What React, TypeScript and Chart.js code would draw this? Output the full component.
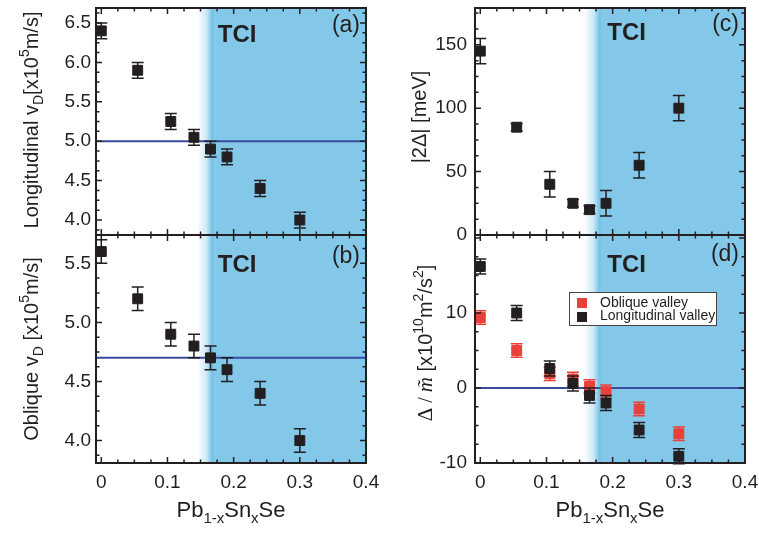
import React, { useEffect, useRef } from "react";
import { Chart, registerables } from "chart.js";

Chart.register(...registerables);

// ---------------------------------------------------------------------------
// Data: Pb(1-x)Sn(x)Se, Dirac velocities, gap and band-inversion parameter
// ---------------------------------------------------------------------------
const snContent = [0, 0.055, 0.105, 0.14, 0.165, 0.19, 0.24, 0.3];

const longitudinalVD = [6.4, 5.9, 5.25, 5.05, 4.9, 4.8, 4.4, 4.0];
const longitudinalVDErr = [0.1, 0.1, 0.1, 0.1, 0.1, 0.1, 0.1, 0.1];

const obliqueVD = [5.6, 5.2, 4.9, 4.8, 4.7, 4.6, 4.4, 4.0];
const obliqueVDErr = [0.1, 0.1, 0.1, 0.1, 0.1, 0.1, 0.1, 0.1];

const gapMeV = [145, 85, 40, 25, 20, 25, 55, 100];
const gapErr = [10, 3, 10, 3, 3, 10, 10, 10];

const ratioOblique = [9.4, 5.0, 1.9, 1.2, 0.2, -0.5, -2.8, -6.1];
const ratioObliqueErr = [0.9, 0.9, 0.9, 0.9, 0.9, 0.9, 0.9, 0.9];
const ratioLongitudinal = [16.2, 10.0, 2.6, 0.6, -1.0, -2.0, -5.6, -9.1];
const ratioLongitudinalErr = [1, 1, 1, 1, 1, 1, 1, 1];

// reference levels (horizontal lines)
const longitudinalRef = 5.0;
const obliqueRef = 4.7;
const ratioRef = 0;

// tick labels
const xTickValues = [0, 0.1, 0.2, 0.3, 0.4];
const longitudinalTicks = [4.0, 4.5, 5.0, 5.5, 6.0, 6.5];
const obliqueTicks = [4.0, 4.5, 5.0, 5.5];
const gapTicks = [0, 50, 100, 150];
const ratioTicks = [-10, 0, 10];

// TCI region onset (white -> blue fade), in x units
const tciFadeLeft: [number, number] = [0.145, 0.17];
const tciFadeRight: [number, number] = [0.156, 0.183];

// ---------------------------------------------------------------------------
const W = 759;
const H = 533;
const OFF = 50; // canvases overhang the visible frame so labels never squeeze the plot
const CW = W + 2 * OFF;
const CH = H + 2 * OFF;

const SANS = "'Liberation Sans', Arial, Helvetica, sans-serif";
const SERIF = "'Liberation Serif', 'Times New Roman', serif";
const INK = "#231f20";
const TCI_BLUE = "#84c8e9";
const REF_BLUE = "#3a4a9e";
const RED = "#e8413a";

const X_MIN = -0.008;
const X_MAX = 0.4;

Chart.defaults.font.family = SANS;
Chart.defaults.color = INK;

type Seg = { t: string; size?: number; dy?: number; family?: string; style?: string };

type Series = { label: string; values: number[]; errors: number[]; color: string };

interface PanelSpec {
  tag: string;
  area: { left: number; top: number; right: number; bottom: number };
  yMin: number;
  yMax: number;
  yTicks: number[];
  yMajor: number;
  yMinor: number;
  yFmt: (v: number) => string;
  yPad: number;
  showX: boolean;
  series: Series[];
  refLine?: number;
  tci: [number, number];
  tciTextX: number;
  tciBase: number;
  tagBase: number;
  yTitle: Seg[];
  yTitleAt: [number, number];
  legend?: boolean;
}

const sub = (t: string): Seg => ({ t, size: 14, dy: 5 });
const sup = (t: string): Seg => ({ t, size: 14, dy: -9 });

const panels: PanelSpec[] = [
  {
    tag: "(a)",
    area: { left: 96, top: 8, right: 366, bottom: 235 },
    yMin: 3.81,
    yMax: 6.69,
    yTicks: longitudinalTicks,
    yMajor: 0.5,
    yMinor: 0.125,
    yFmt: (v) => v.toFixed(1),
    yPad: 5,
    showX: false,
    series: [{ label: "Longitudinal", values: longitudinalVD, errors: longitudinalVDErr, color: INK }],
    refLine: longitudinalRef,
    tci: tciFadeLeft,
    tciTextX: 0.176,
    tciBase: 34,
    tagBase: 24,
    yTitle: [{ t: "Longitudinal v" }, sub("D"), { t: "[x10" }, sup("5"), { t: "m/s]" }],
    yTitleAt: [38, 120],
  },
  {
    tag: "(b)",
    area: { left: 96, top: 235, right: 366, bottom: 463 },
    yMin: 3.81,
    yMax: 5.74,
    yTicks: obliqueTicks,
    yMajor: 0.5,
    yMinor: 0.125,
    yFmt: (v) => v.toFixed(1),
    yPad: 5,
    showX: true,
    series: [{ label: "Oblique", values: obliqueVD, errors: obliqueVDErr, color: INK }],
    refLine: obliqueRef,
    tci: tciFadeLeft,
    tciTextX: 0.176,
    tciBase: 37,
    tagBase: 28,
    yTitle: [{ t: "Oblique v" }, sub("D"), { t: " [x10" }, sup("5"), { t: "m/s]" }],
    yTitleAt: [38, 349],
  },
  {
    tag: "(c)",
    area: { left: 475, top: 8, right: 745, bottom: 235 },
    yMin: 0,
    yMax: 179,
    yTicks: gapTicks,
    yMajor: 50,
    yMinor: 12.5,
    yFmt: (v) => String(v),
    yPad: 8,
    showX: false,
    series: [{ label: "|2Δ|", values: gapMeV, errors: gapErr, color: INK }],
    tci: tciFadeRight,
    tciTextX: 0.192,
    tciBase: 32,
    tagBase: 23,
    yTitle: [{ t: "|2Δ| [meV]" }],
    yTitleAt: [426, 117],
  },
  {
    tag: "(d)",
    area: { left: 475, top: 235, right: 745, bottom: 463 },
    yMin: -10,
    yMax: 20.4,
    yTicks: ratioTicks,
    yMajor: 10,
    yMinor: 2.5,
    yFmt: (v) => String(v),
    yPad: 8,
    showX: true,
    series: [
      { label: "Oblique valley", values: ratioOblique, errors: ratioObliqueErr, color: RED },
      { label: "Longitudinal valley", values: ratioLongitudinal, errors: ratioLongitudinalErr, color: INK },
    ],
    refLine: ratioRef,
    tci: tciFadeRight,
    tciTextX: 0.192,
    tciBase: 37,
    tagBase: 26,
    yTitle: [
      { t: "Δ", family: SERIF, size: 21 },
      { t: " / ", family: SERIF },
      { t: "m\u0303", family: SERIF, style: "italic", size: 21 },
      { t: " [x10" },
      sup("10"),
      { t: "m" },
      sup("2"),
      { t: "/s" },
      sup("2"),
      { t: "]" },
    ],
    yTitleAt: [432, 343],
    legend: true,
  },
];

const xTitle: Seg[] = [
  { t: "Pb" },
  { t: "1-x", size: 15, dy: 6 },
  { t: "Sn" },
  { t: "x", size: 15, dy: 6 },
  { t: "Se" },
];

function drawRich(
  ctx: CanvasRenderingContext2D,
  segs: Seg[],
  x: number,
  y: number,
  base: number,
  rotated: boolean
) {
  ctx.save();
  ctx.translate(x, y);
  if (rotated) ctx.rotate(-Math.PI / 2);
  const fonts = segs.map((s) => `${s.style ?? "normal"} ${s.size ?? base}px ${s.family ?? SANS}`);
  const widths = segs.map((s, i) => {
    ctx.font = fonts[i];
    return ctx.measureText(s.t).width;
  });
  let cx = -widths.reduce((a, b) => a + b, 0) / 2;
  ctx.fillStyle = INK;
  ctx.textAlign = "left";
  ctx.textBaseline = "alphabetic";
  segs.forEach((s, i) => {
    ctx.font = fonts[i];
    ctx.fillText(s.t, cx, s.dy ?? 0);
    cx += widths[i];
  });
  ctx.restore();
}

function tickValues(min: number, max: number, minor: number, major: number) {
  const ratio = Math.round(major / minor);
  const out: { v: number; major: boolean }[] = [];
  const k0 = Math.ceil(min / minor - 1e-9);
  const k1 = Math.floor(max / minor + 1e-9);
  for (let k = k0; k <= k1; k++) {
    out.push({ v: k * minor, major: ((k % ratio) + ratio) % ratio === 0 });
  }
  return out;
}

function panelPlugin(spec: PanelSpec) {
  return {
    id: "panelDecor",
    beforeDatasetsDraw(chart: any) {
      const { ctx, chartArea: a, scales } = chart;
      const x0 = scales.x.getPixelForValue(spec.tci[0]);
      const x1 = scales.x.getPixelForValue(spec.tci[1]);
      const g = ctx.createLinearGradient(x0, 0, x1, 0);
      g.addColorStop(0, "rgba(255,255,255,1)");
      g.addColorStop(0.55, "#cde9f6");
      g.addColorStop(0.92, "#72c0e6");
      g.addColorStop(1, TCI_BLUE);
      ctx.save();
      ctx.fillStyle = g;
      ctx.fillRect(x0, a.top, a.right - x0, a.bottom - a.top);
      ctx.restore();
    },
    beforeDatasetDraw(chart: any, args: any) {
      const ds = chart.data.datasets[args.index];
      if (!ds.errorBars) return;
      const { ctx } = chart;
      const ys = chart.scales.y;
      ctx.save();
      ctx.strokeStyle = ds.borderColor;
      ctx.lineWidth = 1.5;
      args.meta.data.forEach((pt: any, k: number) => {
        const v = ds.data[k].y;
        const e = ds.errorBars[k];
        const yt = ys.getPixelForValue(v + e);
        const yb = ys.getPixelForValue(v - e);
        const px = pt.x;
        ctx.beginPath();
        ctx.moveTo(px, yt);
        ctx.lineTo(px, yb);
        ctx.moveTo(px - 6, yt);
        ctx.lineTo(px + 6, yt);
        ctx.moveTo(px - 6, yb);
        ctx.lineTo(px + 6, yb);
        ctx.stroke();
      });
      ctx.restore();
    },
    afterDraw(chart: any) {
      const { ctx, chartArea: a, scales } = chart;
      const xs = scales.x;
      const ys = scales.y;
      ctx.save();

      // inward tick marks on all four sides
      ctx.strokeStyle = INK;
      ctx.lineWidth = 1.5;
      ctx.beginPath();
      for (const t of tickValues(X_MIN, X_MAX, 0.025, 0.1)) {
        const px = xs.getPixelForValue(t.v);
        const len = t.major ? 6 : 3.5;
        ctx.moveTo(px, a.bottom);
        ctx.lineTo(px, a.bottom - len);
        ctx.moveTo(px, a.top);
        ctx.lineTo(px, a.top + len);
      }
      for (const t of tickValues(spec.yMin, spec.yMax, spec.yMinor, spec.yMajor)) {
        const py = ys.getPixelForValue(t.v);
        const len = t.major ? 6 : 3.5;
        ctx.moveTo(a.left, py);
        ctx.lineTo(a.left + len, py);
        ctx.moveTo(a.right, py);
        ctx.lineTo(a.right - len, py);
      }
      ctx.stroke();

      // frame
      ctx.lineWidth = 2;
      ctx.strokeRect(a.left, a.top, a.right - a.left, a.bottom - a.top);

      // TCI label and panel tag
      ctx.fillStyle = INK;
      ctx.textBaseline = "alphabetic";
      ctx.font = `bold 24px ${SANS}`;
      ctx.textAlign = "left";
      ctx.fillText("TCI", xs.getPixelForValue(spec.tciTextX), a.top + spec.tciBase);
      ctx.font = `23px ${SANS}`;
      ctx.textAlign = "right";
      ctx.fillText(spec.tag, a.right - 6, a.top + spec.tagBase);

      // legend
      if (spec.legend) {
        const bx = a.left + 94;
        const by = a.top + 57;
        ctx.fillStyle = "#ffffff";
        ctx.fillRect(bx, by, 147, 33);
        ctx.strokeStyle = "#444";
        ctx.lineWidth = 1;
        ctx.strokeRect(bx + 0.5, by + 0.5, 147, 33);
        ctx.font = `14px ${SANS}`;
        ctx.textAlign = "left";
        spec.series.forEach((s, i) => {
          ctx.fillStyle = s.color;
          ctx.fillRect(bx + 8, by + 6 + i * 14, 10, 10);
          ctx.fillStyle = INK;
          ctx.fillText(s.label, bx + 31, by + 15 + i * 13);
        });
      }

      // axis titles
      drawRich(ctx, spec.yTitle, spec.yTitleAt[0] + OFF, spec.yTitleAt[1] + OFF, 20, true);
      if (spec.showX) {
        drawRich(ctx, xTitle, (a.left + a.right) / 2, 517 + OFF, 22, false);
      }
      ctx.restore();
    },
  };
}

function buildPanel(canvas: HTMLCanvasElement, spec: PanelSpec): Chart {
  const n = spec.series.length;
  const datasets: any[] = spec.series.map((s, i) => ({
    label: s.label,
    data: snContent.map((x, k) => ({ x, y: s.values[k] })),
    errorBars: s.errors,
    pointStyle: "rect",
    pointRadius: 7,
    pointHoverRadius: 7,
    backgroundColor: s.color,
    borderColor: s.color,
    borderWidth: 1,
    showLine: false,
    order: n - i,
  }));
  if (spec.refLine !== undefined) {
    datasets.push({
      label: "reference",
      data: [
        { x: X_MIN, y: spec.refLine },
        { x: X_MAX, y: spec.refLine },
      ],
      showLine: true,
      borderColor: REF_BLUE,
      borderWidth: 2,
      pointRadius: 0,
      order: 99,
    });
  }

  // the x scale's fitted height sets the bottom edge of the plot, the y scale's width its left edge
  const pad = {
    left: 0,
    top: spec.area.top + OFF,
    right: W - spec.area.right + OFF,
    bottom: 0,
  };

  return new Chart(canvas, {
    type: "scatter",
    data: { datasets },
    options: {
      responsive: false,
      animation: false,
      devicePixelRatio: 1,
      events: [],
      layout: { padding: pad },
      plugins: { legend: { display: false }, tooltip: { enabled: false } },
      scales: {
        x: {
          type: "linear",
          min: X_MIN,
          max: X_MAX,
          bounds: "data",
          grid: { display: false, drawTicks: false },
          border: { display: false },
          ticks: {
            display: spec.showX,
            padding: 8,
            maxRotation: 0,
            minRotation: 0,
            autoSkip: false,
            font: { size: 19, family: SANS },
            color: INK,
            callback: (v: any) => String(Math.round(Number(v) * 10) / 10),
          },
          afterBuildTicks: (s: any) => {
            s.ticks = xTickValues.map((value) => ({ value }));
          },
          afterFit: (s: any) => {
            s.height = H - spec.area.bottom + OFF;
          },
        },
        y: {
          type: "linear",
          min: spec.yMin,
          max: spec.yMax,
          bounds: "data",
          grid: { display: false, drawTicks: false },
          border: { display: false },
          ticks: {
            padding: spec.yPad,
            autoSkip: false,
            font: { size: 19, family: SANS },
            color: INK,
            callback: (v: any) => spec.yFmt(Number(v)),
          },
          afterBuildTicks: (s: any) => {
            s.ticks = spec.yTicks.map((value) => ({ value }));
          },
          afterFit: (s: any) => {
            s.width = spec.area.left + OFF;
          },
        },
      },
    } as any,
    plugins: [panelPlugin(spec)],
  });
}

export default function App() {
  const refs = [
    useRef<HTMLCanvasElement>(null),
    useRef<HTMLCanvasElement>(null),
    useRef<HTMLCanvasElement>(null),
    useRef<HTMLCanvasElement>(null),
  ];

  useEffect(() => {
    const charts = panels.map((p, i) => buildPanel(refs[i].current as HTMLCanvasElement, p));
    return () => charts.forEach((c) => c.destroy());
  }, []);

  return (
    <div
      style={{
        position: "absolute",
        left: 0,
        top: 0,
        width: W,
        height: H,
        overflow: "hidden",
        background: "#ffffff",
      }}
    >
      {panels.map((p, i) => (
        <canvas
          key={p.tag}
          ref={refs[i]}
          width={CW}
          height={CH}
          style={{ position: "absolute", left: -OFF, top: -OFF, width: CW, height: CH }}
        />
      ))}
    </div>
  );
}
